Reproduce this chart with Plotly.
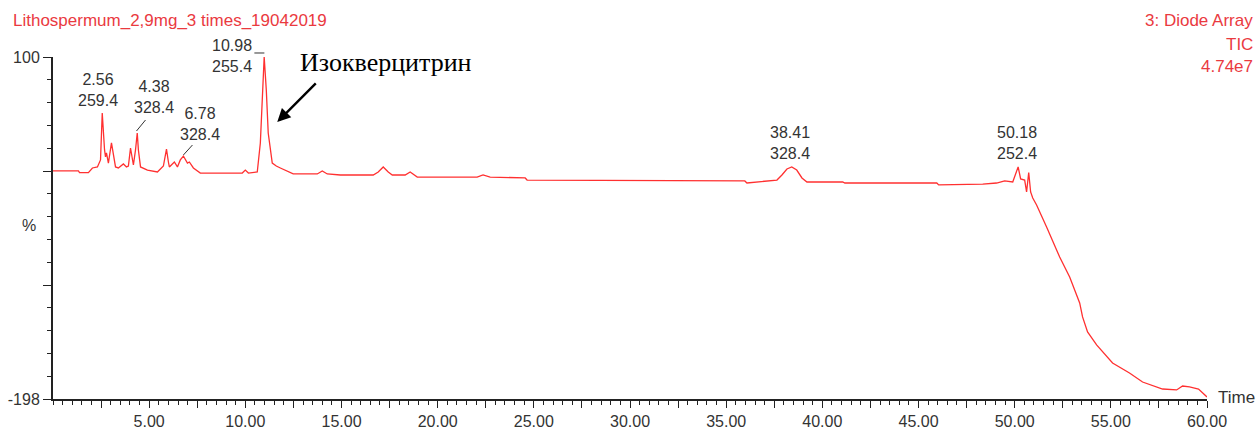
import plotly.graph_objects as go

# ---- data (retention time, min ; relative intensity, %) ----
time_min = [0.0, 1.32, 1.38, 1.84, 2.05, 2.31, 2.47, 2.56, 2.68, 2.73, 2.78, 2.88, 3.04, 3.14, 3.25,
            3.40, 3.66, 3.82, 3.92, 4.03, 4.13, 4.18, 4.29, 4.38, 4.44, 4.55, 4.91, 5.43, 5.74, 5.90,
            6.00, 6.05, 6.31, 6.47, 6.62, 6.78, 6.99, 7.09, 7.30, 7.66, 9.84, 10.00, 10.16, 10.62,
            10.78, 10.88, 10.94, 10.98, 11.09, 11.19, 11.40, 11.61, 11.82, 12.49, 13.74, 14.00, 14.26,
            14.94, 16.65, 16.91, 17.17, 17.43, 17.64, 18.31, 18.57, 18.94, 22.05, 22.36, 22.73, 24.55,
            24.65, 35.97, 36.08, 37.64, 37.90, 38.16, 38.41, 38.67, 38.94, 39.20, 41.06, 41.17, 45.95,
            46.05, 48.34, 49.06, 49.48, 49.90, 50.18, 50.31, 50.52, 50.62, 50.73, 50.83, 50.94, 51.14,
            51.66, 52.34, 52.86, 53.38, 53.53, 53.79, 54.26, 55.09, 55.97, 56.65, 57.69, 58.42, 58.73,
            59.09, 59.56, 60.0]
intensity = [0.7, 0.7, -0.8, -0.8, 3.3, 4.2, 10.3, 51.2, 19.0, 12.9, 16.4, 7.6, 25.1, 14.6, 4.2,
             3.3, 6.8, 4.2, 5.0, 20.7, 10.3, 5.9, 19.0, 33.8, 19.0, 4.2, 1.5, -0.2, 5.0, 19.8,
             8.5, 4.2, 8.5, 4.2, 10.3, 13.7, 7.6, 8.5, 3.3, -1.1, -1.1, 1.5, -1.1, -0.2,
             25.1, 62.5, 97.4, 100.0, 71.2, 33.8, 7.6, 5.0, 3.3, -1.9, -1.9, 0.7, -1.9,
             -2.8, -2.8, -0.2, 4.2, -0.2, -2.8, -2.8, -0.2, -4.6, -4.6, -2.8, -4.6, -5.4,
             -7.2, -8.0, -9.8, -7.2, -2.8, 2.4, 4.2, 1.5, -5.4, -8.9, -8.9, -9.8, -9.8,
             -11.5, -10.7, -9.8, -8.0, -8.9, 4.2, -6.3, -7.2, -17.6, -0.6, -17.6, -22.9, -29.0,
             -48.1, -74.3, -91.7, -114.3, -126.5, -139.6, -150.9, -166.6, -175.3, -183.2, -189.3, -190.1,
             -186.7, -187.5, -189.3, -196.2]

peak_times = [2.56, 4.38, 6.78, 10.98, 38.41, 50.18]
peak_mz = ["259.4", "328.4", "328.4", "255.4", "328.4", "252.4"]
# label block centres: x in minutes, y as fraction of plot height
label_x = [2.36, 5.27, 7.66, 9.33, 38.31, 50.10]
label_y = [0.903, 0.883, 0.804, 1.003, 0.750, 0.750]

x_major = [2.5 * k for k in range(1, 25)]
x_text = [f"{v:.2f}" if abs(v % 5) < 1e-9 else "" for v in x_major]
y_min, y_max = -198, 100
y_major = [y_max, y_max - (y_max - y_min) / 3, y_max - 2 * (y_max - y_min) / 3, y_min]
y_text = ["100", "", "", "-198"]

RED_TXT = "#ea3a3f"
RED_LINE = "#ff3030"
DARK = "#333333"
FONT = "Liberation Sans, Arial, sans-serif"

fig = go.Figure()
fig.add_trace(go.Scatter(x=time_min, y=intensity, mode="lines",
                         line=dict(color=RED_LINE, width=1.3), hoverinfo="skip",
                         showlegend=False))

annotations = []
for t, mz, lx, ly in zip(peak_times, peak_mz, label_x, label_y):
    annotations.append(dict(x=lx, y=ly, xref="x", yref="paper", text=f"{t:.2f}<br>{mz}",
                            showarrow=False, font=dict(family=FONT, size=16, color=DARK),
                            align="center", xanchor="center", yanchor="middle"))

# name of the main compound + arrow
annotations.append(dict(x=17.32, y=94.8, xref="x", yref="y", text="Изокверцитрин",
                        showarrow=False, xanchor="center", yanchor="middle",
                        font=dict(family="Liberation Serif, Times New Roman, serif", size=26,
                                  color="black")))
annotations.append(dict(x=11.66, y=43.4, xref="x", yref="y", text="", showarrow=True,
                        ax=40, ay=-40, arrowhead=2, arrowsize=1.1, arrowwidth=2.4,
                        arrowcolor="black"))

annotations += [
    dict(x=-0.0368, y=1.108, xref="paper", yref="paper", xanchor="left", yanchor="middle",
         text="Lithospermum_2,9mg_3 times_19042019", showarrow=False,
         font=dict(family=FONT, size=17, color=RED_TXT)),
    dict(x=1.042, y=1.108, xref="paper", yref="paper", xanchor="right", yanchor="middle",
         text="3: Diode Array", showarrow=False, font=dict(family=FONT, size=17, color=RED_TXT)),
    dict(x=1.042, y=1.038, xref="paper", yref="paper", xanchor="right", yanchor="middle",
         text="TIC", showarrow=False, font=dict(family=FONT, size=17, color=RED_TXT)),
    dict(x=1.042, y=0.971, xref="paper", yref="paper", xanchor="right", yanchor="middle",
         text="4.74e7", showarrow=False, font=dict(family=FONT, size=17, color=RED_TXT)),
    dict(x=-0.0126, y=0.506, xref="paper", yref="paper", xanchor="right", yanchor="middle",
         text="%", showarrow=False, font=dict(family=FONT, size=16, color=DARK)),
    dict(x=1.0074, y=0.003, xref="paper", yref="paper", xanchor="left", yanchor="middle",
         text="Time", showarrow=False, font=dict(family=FONT, size=17, color=DARK)),
]

shapes = [
    dict(type="line", xref="x", yref="y", x0=4.34, y0=35.5, x1=4.81, y1=45.1,
         line=dict(color=DARK, width=1)),
    dict(type="line", xref="x", yref="y", x0=6.78, y0=14.6, x1=7.25, y1=23.3,
         line=dict(color=DARK, width=1)),
    dict(type="line", xref="x", yref="paper", x0=10.47, y0=1.0117, x1=10.99, y1=1.0117,
         line=dict(color=DARK, width=1)),
]

fig.update_layout(
    template="none",
    width=1260, height=430, autosize=False,
    margin=dict(l=53, r=53, t=57, b=31, pad=0),
    paper_bgcolor="white", plot_bgcolor="white",
    annotations=annotations, shapes=shapes,
    xaxis=dict(range=[0, 60], showgrid=False, zeroline=False, automargin=False,
               showline=True, linecolor="#222222", linewidth=2,
               tickmode="array", tickvals=x_major, ticktext=x_text,
               ticks="outside", ticklen=7, tickwidth=1.2, tickcolor="#222222",
               tickfont=dict(family=FONT, size=16, color=DARK),
               minor=dict(tick0=0, dtick=0.5, ticks="outside", ticklen=4,
                          tickwidth=1, tickcolor="#222222", showgrid=False)),
    yaxis=dict(range=[y_min, y_max], showgrid=False, zeroline=False, automargin=False,
               showline=True, linecolor="#222222", linewidth=2,
               tickmode="array", tickvals=y_major, ticktext=y_text,
               ticks="outside", ticklen=8, tickwidth=1.2, tickcolor="#222222",
               tickfont=dict(family=FONT, size=16, color=DARK),
               minor=dict(tick0=y_min, dtick=(y_max - y_min) / 15, ticks="outside",
                          ticklen=4, tickwidth=1, tickcolor="#222222", showgrid=False)),
)

fig.write_html("out.html", config={"displayModeBar": False},
               post_script="document.body.style.margin='0';document.body.style.overflow='hidden';")
